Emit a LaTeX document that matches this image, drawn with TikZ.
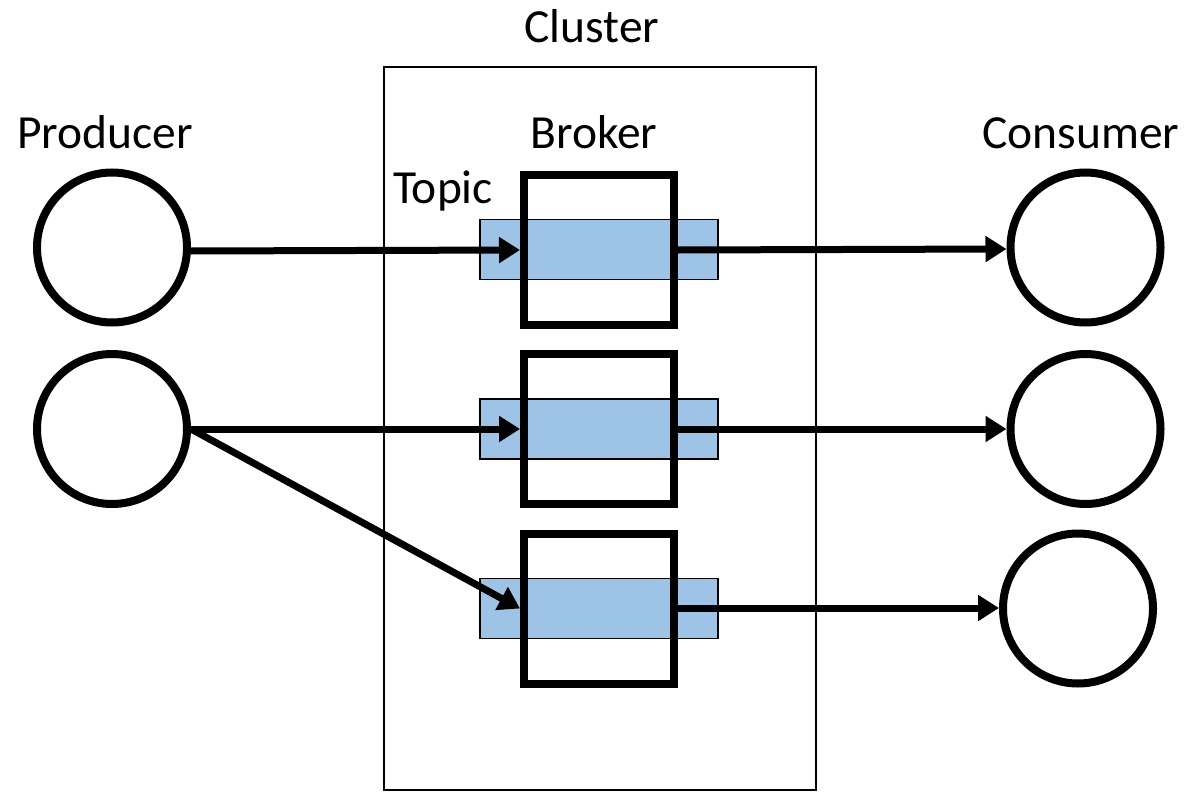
\documentclass[tikz,border=0pt]{standalone}
\usepackage{fontspec}
\setmainfont{Carlito}
\usetikzlibrary{arrows.meta}
\definecolor{topicblue}{HTML}{9DC3E6}
\tikzset{
  circ/.style={circle, draw=black, line width=8pt, minimum size=150pt, inner sep=0pt},
  brokerbox/.style={draw=black, line width=8pt, minimum width=150pt, minimum height=150pt, inner sep=0pt},
  brokerfill/.style={fill=white, minimum width=150pt, minimum height=150pt, inner sep=0pt},
  topicbox/.style={draw=black, line width=1.5pt, fill=topicblue, minimum width=238pt, minimum height=60pt, inner sep=0pt},
  conn/.style={line width=7pt, -{Triangle[length=21pt,width=25pt]}},
  lbl/.style={font=\fontsize{47.5}{52}\selectfont, anchor=base, inner sep=0pt},
}
\begin{document}
\begin{tikzpicture}[x=1pt,y=-1pt]
\useasboundingbox (0,0) rectangle (1189,792);
% cluster
\draw[line width=2.6pt] (384,67) rectangle (816,790);
\node[lbl] (lcluster) at (592,43) {Cluster};
\node[lbl] (lproducer) at (105,148) {Producer};
\node[lbl] (lbroker) at (594,148) {Broker};
\node[lbl] (lconsumer) at (1081,148) {Consumer};
\node[lbl] (ltopic) at (443,203) {Topic};
% brokers and topics
\foreach \n/\y in {1/249.5, 2/429, 3/608.5} {
  \node[brokerfill] (bf\n) at (599,\y) {};
  \node[topicbox] (t\n) at (599,\y) {};
  \node[brokerbox] (b\n) at (599,\y) {};
}
% producers
\node[circ] (p1) at (112,247.5) {};
\node[circ] (p2) at (112,429) {};
% consumers
\node[circ] (c1) at (1085.5,247.5) {};
\node[circ] (c2) at (1085.5,429) {};
\node[circ] (c3) at (1078,608.5) {};
% connectors
\draw[conn] (p1.east |- 0,251) -- (b1.west |- 0,250);
\draw[conn] (p2.east) -- (b2.west);
\draw[conn] (p2.east) -- (b3.west);
\draw[conn] (b1.east |- 0,250) -- (c1.west |- 0,249);
\draw[conn] (b2.east) -- (c2.west);
\draw[conn] (b3.east |- 0,608) -- (c3.west |- 0,608);
\end{tikzpicture}
\end{document}
